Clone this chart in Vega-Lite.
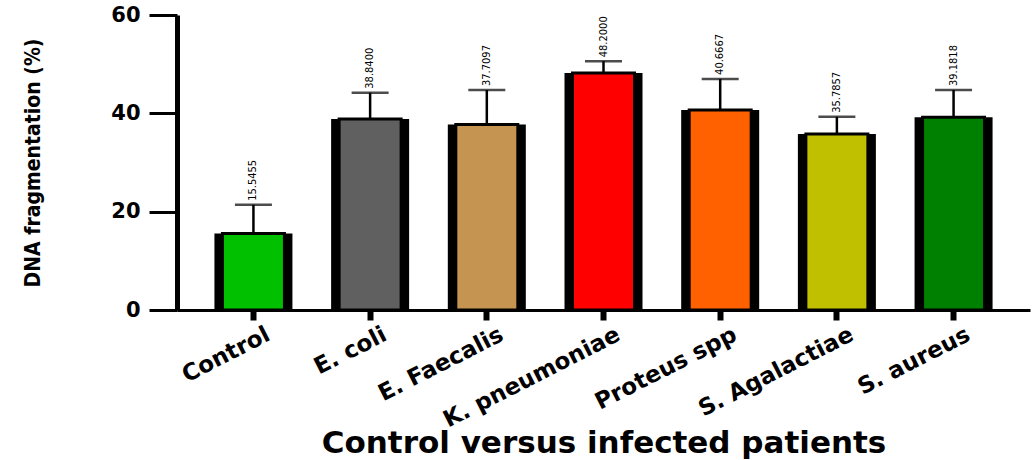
{
  "$schema": "https://vega.github.io/schema/vega-lite/v6.json",
  "width": 853,
  "height": 295,
  "autosize": {"type": "none"},
  "padding": {"left": 177, "top": 15, "right": 3, "bottom": 150},
  "background": "white",
  "config": {"view": {"stroke": null}},
  "data": {
    "values": [
      {"group": "Control", "value": 15.5455, "upper": 21.4, "color": "#00C000"},
      {"group": "E. coli", "value": 38.84, "upper": 44.2, "color": "#606060"},
      {"group": "E. Faecalis", "value": 37.7097, "upper": 44.75, "color": "#C49450"},
      {"group": "K. pneumoniae", "value": 48.2, "upper": 50.6, "color": "#FF0000"},
      {"group": "Proteus spp", "value": 40.6667, "upper": 47.0, "color": "#FF6000"},
      {"group": "S. Agalactiae", "value": 35.7857, "upper": 39.3, "color": "#C0C000"},
      {"group": "S. aureus", "value": 39.1818, "upper": 44.75, "color": "#008000"}
    ]
  },
  "encoding": {
    "x": {
      "field": "group",
      "type": "nominal",
      "sort": null,
      "scale": {"paddingInner": 0.33, "paddingOuter": 0.32},
      "axis": {
        "title": "Control versus infected patients",
        "titleFont": "DejaVu Sans",
        "titleFontWeight": "bold",
        "titleFontSize": 31,
        "titleColor": "black",
        "titleBaseline": "top",
        "titleY": 118,
        "labelAngle": -27,
        "labelAlign": "right",
        "labelBaseline": "top",
        "labelOffset": 10,
        "labelPadding": 3,
        "labelLimit": 0,
        "labelFont": "DejaVu Sans",
        "labelFontWeight": "bold",
        "labelFontSize": 23,
        "labelColor": "black",
        "domainColor": "black",
        "domainWidth": 3,
        "tickColor": "black",
        "tickWidth": 6,
        "tickSize": 10
      }
    }
  },
  "layer": [
    {
      "mark": {"type": "bar", "size": 78, "color": "black"},
      "encoding": {
        "y": {
          "field": "value",
          "type": "quantitative",
          "scale": {"domain": [0, 60], "nice": false},
          "axis": {
            "values": [0, 20, 40, 60],
            "grid": false,
            "title": "DNA fragmentation (%)",
            "titleFont": "DejaVu Sans Condensed, Roboto Condensed, Roboto, sans-serif",
            "titleFontWeight": "bold",
            "titleFontSize": 21,
            "titleColor": "black",
            "titleBaseline": "bottom",
            "titleX": -134,
            "labelFont": "DejaVu Sans",
            "labelFontWeight": "bold",
            "labelFontSize": 21,
            "labelColor": "black",
            "labelPadding": 9,
            "domainColor": "black",
            "domainWidth": 5,
            "tickColor": "black",
            "tickWidth": 3,
            "tickSize": 28
          }
        }
      }
    },
    {
      "mark": {"type": "bar", "size": 62, "stroke": "black", "strokeWidth": 3},
      "encoding": {
        "y": {"field": "value", "type": "quantitative"},
        "fill": {"field": "color", "type": "nominal", "scale": null}
      }
    },
    {
      "mark": {"type": "rule", "color": "black", "strokeWidth": 2.5},
      "encoding": {
        "y": {"field": "value", "type": "quantitative"},
        "y2": {"field": "upper"}
      }
    },
    {
      "mark": {"type": "tick", "color": "black", "size": 37, "thickness": 2.5, "orient": "horizontal"},
      "encoding": {
        "y": {"field": "upper", "type": "quantitative"}
      }
    },
    {
      "mark": {"type": "text", "angle": -90, "align": "left", "baseline": "middle", "dx": 4, "font": "DejaVu Sans Condensed, Roboto Condensed, Roboto, sans-serif", "fontSize": 11, "color": "black"},
      "encoding": {
        "y": {"field": "upper", "type": "quantitative"},
        "text": {"field": "value", "type": "quantitative", "format": ".4f"}
      }
    }
  ]
}
